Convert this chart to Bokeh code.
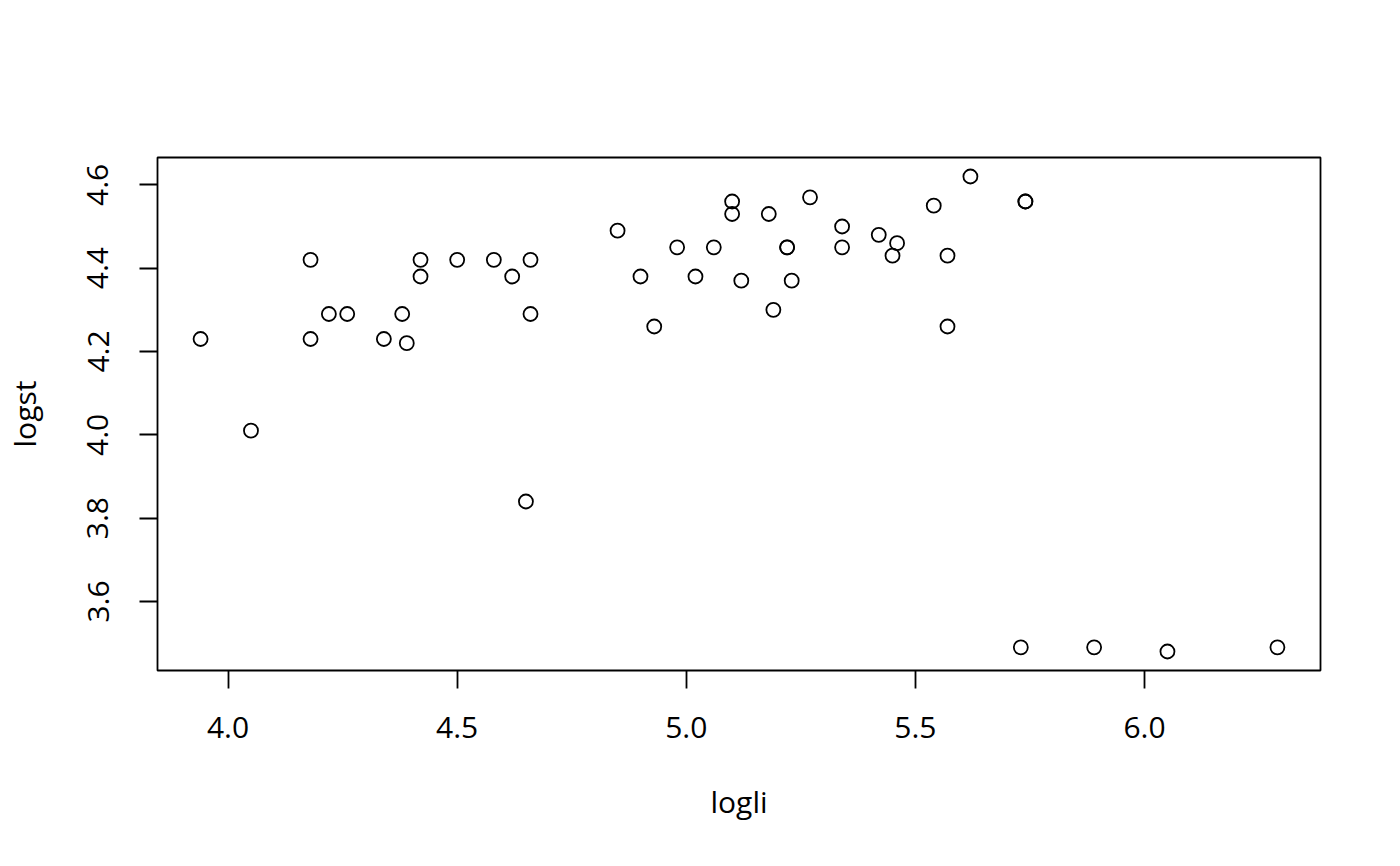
from bokeh.plotting import figure
from bokeh.models import Range1d, FixedTicker, ColumnDataSource
from bokeh.embed import file_html
from bokeh.resources import INLINE

# starsCYG: log light intensity (x) and log surface temperature (y)
logli = [5.23, 5.74, 4.93, 5.74, 5.19, 5.46, 4.65, 5.27, 5.57, 5.12,
         5.73, 5.45, 5.42, 4.05, 4.26, 4.58, 3.94, 4.18, 4.18, 5.89,
         4.38, 4.22, 4.42, 4.85, 5.02, 4.66, 4.66, 4.90, 4.39, 6.05,
         4.42, 5.10, 5.22, 6.29, 4.34, 5.62, 5.10, 5.22, 5.18, 5.57,
         4.62, 5.06, 5.34, 5.34, 5.54, 4.98, 4.50]
logst = [4.37, 4.56, 4.26, 4.56, 4.30, 4.46, 3.84, 4.57, 4.26, 4.37,
         3.49, 4.43, 4.48, 4.01, 4.29, 4.42, 4.23, 4.42, 4.23, 3.49,
         4.29, 4.29, 4.42, 4.49, 4.38, 4.42, 4.29, 4.38, 4.22, 3.48,
         4.38, 4.56, 4.45, 3.49, 4.23, 4.62, 4.53, 4.45, 4.53, 4.43,
         4.38, 4.45, 4.50, 4.45, 4.55, 4.45, 4.42]

x_ticks = [4.0, 4.5, 5.0, 5.5, 6.0]
x_tick_labels = ["4.0", "4.5", "5.0", "5.5", "6.0"]
y_ticks = [3.6, 3.8, 4.0, 4.2, 4.4, 4.6]
y_tick_labels = ["3.6", "3.8", "4.0", "4.2", "4.4", "4.6"]


def r_range(v):
    lo, hi = min(v), max(v)
    d = (hi - lo) * 0.04
    return Range1d(lo - d, hi + d)


FONT = "Open Sans"
FS = "30px"

p = figure(width=1384, height=850, output_backend="svg", toolbar_location=None,
           x_range=r_range(logli), y_range=r_range(logst),
           min_border_left=157, min_border_right=64,
           min_border_top=157, min_border_bottom=180,
           x_axis_label="logli", y_axis_label="logst")

p.background_fill_color = "white"
p.border_fill_color = "white"
p.outline_line_color = "black"
p.outline_line_width = 1.8
p.xgrid.visible = False
p.ygrid.visible = False

src = ColumnDataSource(dict(x=logli, y=logst))
p.scatter("x", "y", source=src, size=14, marker="circle",
          fill_color=None, line_color="black", line_width=1.8)

p.xaxis.ticker = FixedTicker(ticks=x_ticks)
p.yaxis.ticker = FixedTicker(ticks=y_ticks)
p.xaxis.major_label_overrides = {t: l for t, l in zip(x_ticks, x_tick_labels)}
p.yaxis.major_label_overrides = {t: l for t, l in zip(y_ticks, y_tick_labels)}
p.yaxis.major_label_orientation = "parallel"

for ax in (p.xaxis[0], p.yaxis[0]):
    ax.axis_line_color = None
    ax.major_tick_in = 0
    ax.major_tick_out = 18
    ax.major_tick_line_width = 1.8
    ax.major_tick_line_color = "black"
    ax.minor_tick_line_color = None
    ax.major_label_text_font = FONT
    ax.major_label_text_font_size = FS
    ax.major_label_text_color = "black"
    ax.axis_label_text_font = FONT
    ax.axis_label_text_font_size = FS
    ax.axis_label_text_font_style = "normal"
    ax.axis_label_text_color = "black"

p.xaxis.major_label_standoff = 28
p.xaxis.axis_label_standoff = 40
p.yaxis.major_label_standoff = 31
p.yaxis.axis_label_standoff = 40

open("out.html", "w").write(file_html(p, INLINE))
